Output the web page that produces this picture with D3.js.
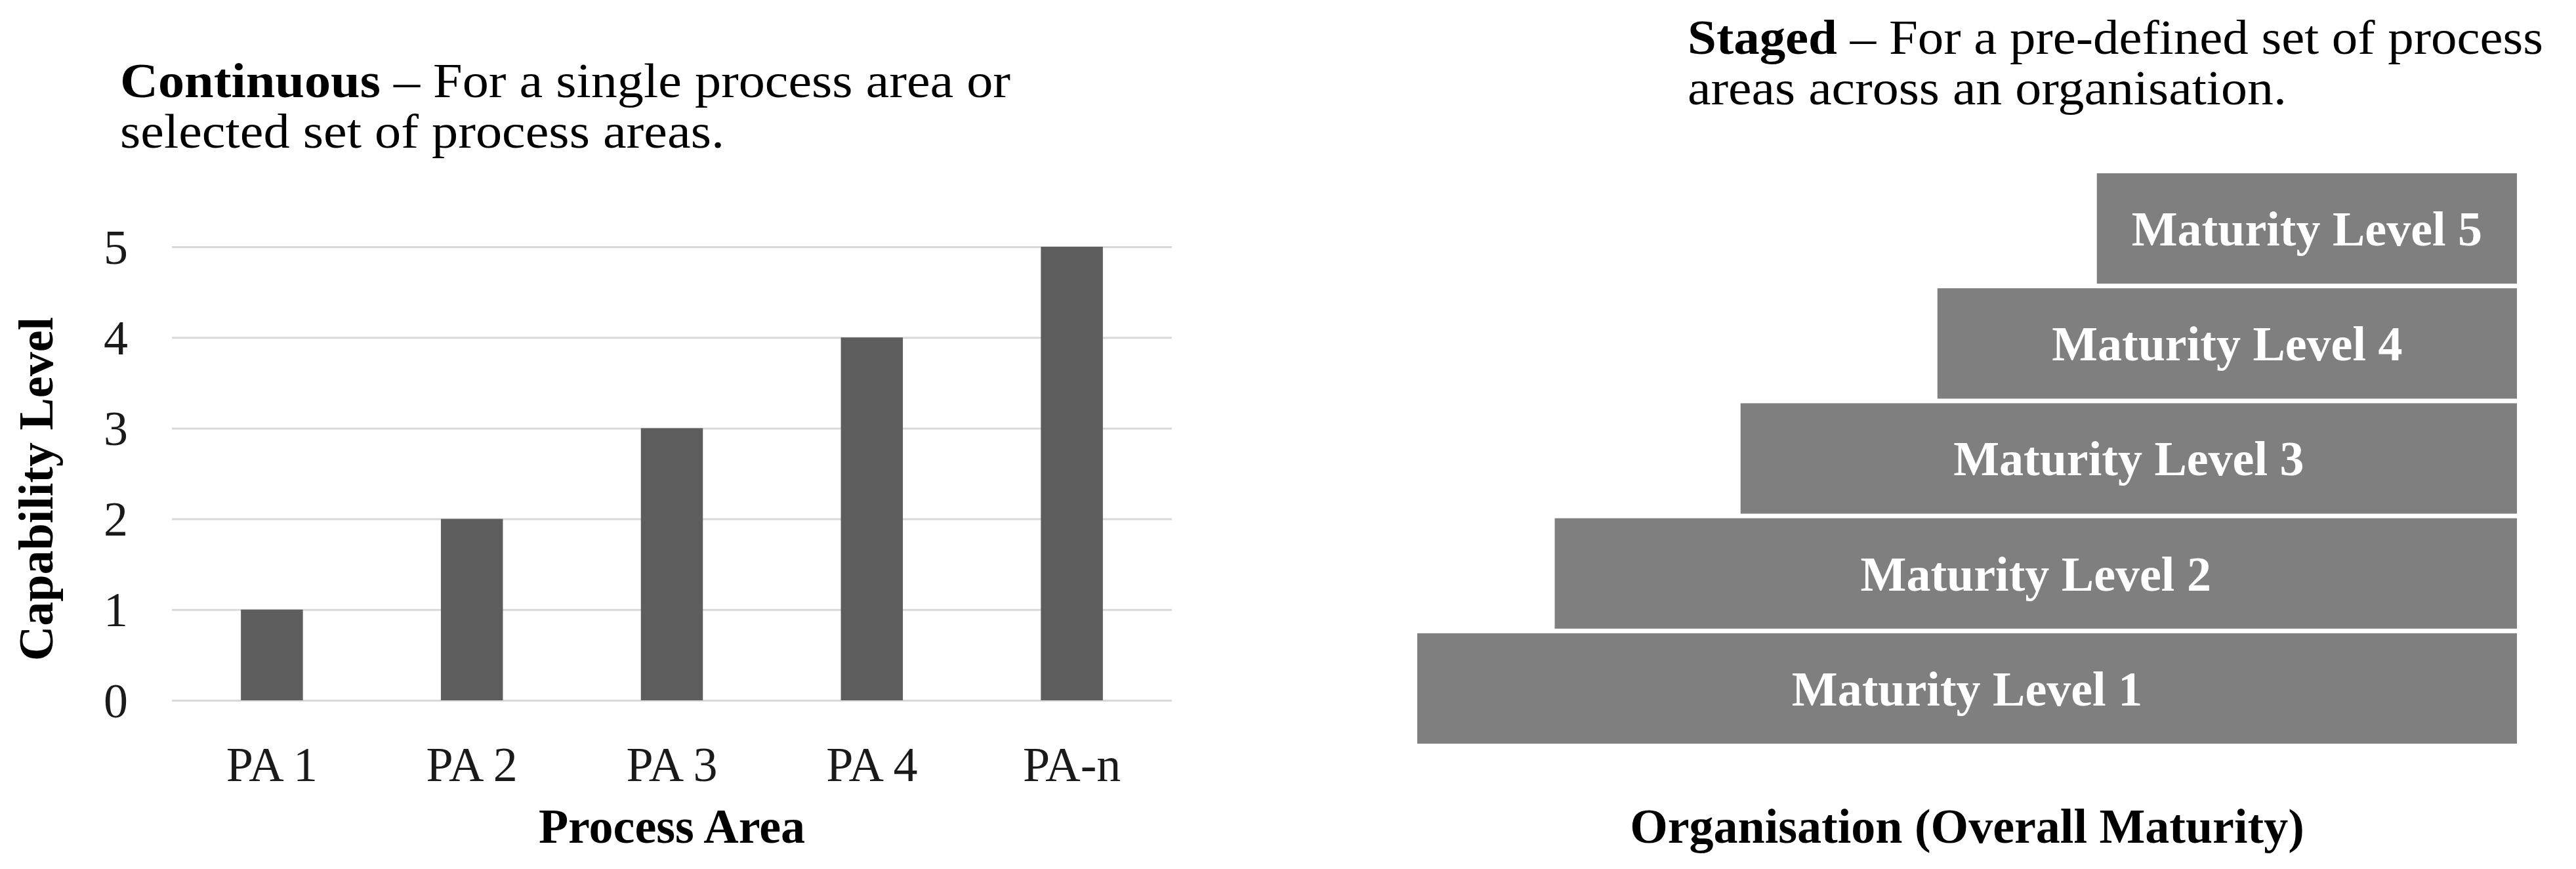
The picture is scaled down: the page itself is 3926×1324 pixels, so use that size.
<!DOCTYPE html>
<html>
<head>
<meta charset="utf-8">
<script src="https://cdn.jsdelivr.net/npm/d3@7"></script>
<style>
  body { margin: 0; background: #fff; }
  text { font-family: "Liberation Serif", "DejaVu Serif", serif; }
</style>
</head>
<body>
<div id="chart"></div>
<script>
// Data
var categories = ["PA 1", "PA 2", "PA 3", "PA 4", "PA-n"];
var capability = [1, 2, 3, 4, 5];
var yTicks = [0, 1, 2, 3, 4, 5];

var levels = ["Maturity Level 1", "Maturity Level 2", "Maturity Level 3", "Maturity Level 4", "Maturity Level 5"];
var levelStart = [0, 12.5, 29.4, 47.3, 61.8];
var levelEnd = [100, 100, 100, 100, 100];

// Setup
var W = 3926, H = 1324;
var fontSize = 74;

var svg = d3.select("#chart")
    .append("svg")
    .attr("width", W)
    .attr("height", H);

svg.append("rect").attr("width", W).attr("height", H).attr("fill", "#fff");

// two-line heading, first word bold, stretched to the measured line widths
function heading(xPos, yPos, boldWord, rest, line2, w1, w2) {
    var a = svg.append("text")
        .attr("x", xPos).attr("y", yPos)
        .attr("font-size", fontSize).attr("fill", "#000")
        .attr("textLength", w1).attr("lengthAdjust", "spacingAndGlyphs");
    a.append("tspan").attr("font-weight", "bold").text(boldWord);
    a.append("tspan").text(rest);
    svg.append("text")
        .attr("x", xPos).attr("y", yPos + 77)
        .attr("font-size", fontSize).attr("fill", "#000")
        .attr("textLength", w2).attr("lengthAdjust", "spacingAndGlyphs")
        .text(line2);
}

// ---------- Continuous (left) ----------
var left = { x0: 262, x1: 1786, y0: 1067, y1: 376 };

var x = d3.scaleBand()
    .domain(categories)
    .range([left.x0, left.x1])
    .paddingInner(0.69)
    .paddingOuter(0.345);

var y = d3.scaleLinear()
    .domain([0, 5])
    .range([left.y0, left.y1]);

heading(183, 148, "Continuous", " \u2013 For a single process area or",
    "selected set of process areas.", 1357, 921);

// gridlines + y ticks
var yAxis = svg.append("g")
    .attr("transform", `translate(${left.x0}, 0)`)
    .call(d3.axisLeft(y)
        .tickValues(yTicks)
        .tickSize(-(left.x1 - left.x0))
        .tickPadding(67)
        .tickFormat(d3.format("d")));
yAxis.select(".domain").remove();
yAxis.selectAll("line").attr("stroke", "#d9d9d9").attr("stroke-width", 3);
yAxis.selectAll("text")
    .attr("font-family", "Liberation Serif, serif")
    .attr("font-size", fontSize)
    .attr("fill", "#1a1a1a")
    .attr("dy", "0.34em");

// bars
svg.append("g")
    .selectAll("rect")
    .data(categories)
    .join("rect")
    .attr("x", d => x(d))
    .attr("width", x.bandwidth())
    .attr("y", (d, i) => y(capability[i]))
    .attr("height", (d, i) => y(0) - y(capability[i]))
    .attr("fill", "#5d5d5d");

// x labels
var xAxis = svg.append("g")
    .attr("transform", `translate(0, ${left.y0})`)
    .call(d3.axisBottom(x).tickSize(0));
xAxis.select(".domain").remove();
xAxis.selectAll("text")
    .attr("font-family", "Liberation Serif, serif")
    .attr("font-size", fontSize)
    .attr("fill", "#1a1a1a")
    .attr("y", 123)
    .attr("dy", 0);

// axis titles
svg.append("text")
    .attr("x", (left.x0 + left.x1) / 2).attr("y", 1284)
    .attr("text-anchor", "middle")
    .attr("font-size", fontSize).attr("font-weight", "bold")
    .text("Process Area");

svg.append("text")
    .attr("transform", "translate(80, 745) rotate(-90)")
    .attr("text-anchor", "middle")
    .attr("font-size", fontSize).attr("font-weight", "bold")
    .text("Capability Level");

// ---------- Staged (right) ----------
var xs = d3.scaleLinear()
    .domain([0, 100])
    .range([2160, 3836]);

var ys = d3.scaleBand()
    .domain(levels)
    .range([1133, 264])
    .paddingInner(0.04);

heading(2572, 82, "Staged", " \u2013 For a pre-defined set of process",
    "areas across an organisation.", 1304, 913);

var stage = svg.append("g")
    .selectAll("g")
    .data(levels)
    .join("g");

stage.append("rect")
    .attr("x", (d, i) => xs(levelStart[i]))
    .attr("width", (d, i) => xs(levelEnd[i]) - xs(levelStart[i]))
    .attr("y", d => ys(d))
    .attr("height", ys.bandwidth())
    .attr("fill", "#7f7f7f");

stage.append("text")
    .attr("x", (d, i) => (xs(levelStart[i]) + xs(levelEnd[i])) / 2)
    .attr("y", d => ys(d) + ys.bandwidth() / 2)
    .attr("dy", "0.35em")
    .attr("text-anchor", "middle")
    .attr("font-size", fontSize).attr("font-weight", "bold")
    .attr("fill", "#fff")
    .text(d => d);

svg.append("text")
    .attr("x", (xs(0) + xs(100)) / 2).attr("y", 1284)
    .attr("text-anchor", "middle")
    .attr("font-size", fontSize).attr("font-weight", "bold")
    .text("Organisation (Overall Maturity)");
</script>
</body>
</html>
